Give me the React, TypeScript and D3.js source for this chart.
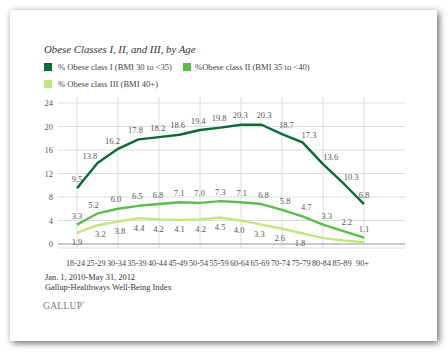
import React from 'react';
import * as d3 from 'd3';

const ages = ['18-24', '25-29', '30-34', '35-39', '40-44', '45-49', '50-54', '55-59', '60-64', '65-69', '70-74', '75-79', '80-84', '85-89', '90+'];
const classI = [9.5, 13.8, 16.2, 17.8, 18.2, 18.6, 19.4, 19.8, 20.3, 20.3, 18.7, 17.3, 13.6, 10.3, 6.8];
const classII = [3.3, 5.2, 6.0, 6.5, 6.8, 7.1, 7.0, 7.3, 7.1, 6.8, 5.8, 4.7, 3.3, 2.2, 1.1];
const classIII = [1.9, 3.2, 3.8, 4.4, 4.2, 4.1, 4.2, 4.5, 4.0, 3.3, 2.6, 1.8, 1.0, 0.6, 0.3];
// the last three class III points carry no label in the original
const classIIILabelled = 12;
const yTicks = [0, 4, 8, 12, 16, 20, 24];

const seriesNames = ['% Obese class I (BMI 30 to <35)', '%Obese class II (BMI 35 to <40)', '% Obese class III (BMI 40+)'];
const colors = ['#0b6b33', '#5bbd4b', '#c3e57e'];

const serif = '"Liberation Serif", "DejaVu Serif", serif';

export default function App() {
  const x = d3.scalePoint<string>().domain(ages).range([77, 364]);
  const y = d3.scaleLinear().domain([0, 24]).range([244, 103]);

  const line = d3.line<number>()
    .x((_, i) => x(ages[i]) as number)
    .y(d => y(d));

  const series = [
    { values: classI, color: colors[0], side: -1, count: ages.length },
    { values: classII, color: colors[1], side: -1, count: ages.length },
    { values: classIII, color: colors[2], side: 1, count: classIIILabelled },
  ];

  // place labels along the normal of the line, above (-1) or below (+1)
  const labelPos = (vals: number[], i: number, side: number) => {
    const px = x(ages[i]) as number;
    const py = y(vals[i]);
    if (i === 0 || i === vals.length - 1) return [px, py + side * 9];
    const x0 = x(ages[i - 1]) as number, y0 = y(vals[i - 1]);
    const x1 = x(ages[i + 1]) as number, y1 = y(vals[i + 1]);
    const len = Math.hypot(x1 - x0, y1 - y0);
    const tx = (x1 - x0) / len, ty = (y1 - y0) / len;
    const nx = side < 0 ? ty : -ty;
    const ny = side < 0 ? -tx : tx;
    return [px + nx * 11, py + ny * 9.5];
  };

  return (
    <svg width={448} height={352} style={{ position: 'absolute', left: 0, top: 0, background: '#fff' }}>
      <defs>
        <filter id="shadow" x="-10%" y="-10%" width="120%" height="120%">
          <feDropShadow dx="2" dy="2" stdDeviation="3.5" floodColor="#000" floodOpacity="0.6" />
        </filter>
      </defs>
      <rect x={10} y={10} width={427} height={331} fill="#fff" filter="url(#shadow)" />

      <text x={44} y={53} fontFamily={serif} fontStyle="italic" fontSize={10.8} fill="#333">
        Obese Classes I, II, and III, by Age
      </text>

      {/* legend */}
      <g fontFamily={serif} fontSize={8.6} fill="#444">
        <rect x={44} y={63} width={8} height={8} fill={colors[0]} />
        <text x={58} y={70}>{seriesNames[0]}</text>
        <rect x={183} y={63} width={8} height={8} fill={colors[1]} />
        <text x={195} y={70}>{seriesNames[1]}</text>
        <rect x={44} y={80} width={8} height={8} fill={colors[2]} />
        <text x={58} y={87}>{seriesNames[2]}</text>
      </g>

      {/* grid */}
      <g stroke="#dcdcdc" strokeWidth={1}>
        {yTicks.map(t => (
          <line key={t} x1={58} x2={405} y1={y(t)} y2={y(t)} />
        ))}
        {ages.filter((_, i) => i % 2 === 0).map(a => (
          <line key={a} x1={x(a)} x2={x(a)} y1={97} y2={248} />
        ))}
        <line x1={58} x2={405} y1={248} y2={248} />
      </g>
      <line x1={58} x2={405} y1={y(0)} y2={y(0)} stroke="#bdbdbd" strokeWidth={1.5} />

      <g fontFamily={serif} fontSize={8.5} fill="#555" textAnchor="end">
        {yTicks.map(t => (
          <text key={t} x={53} y={y(t) + 3}>{t}</text>
        ))}
      </g>
      <g fontFamily={serif} fontSize={8.2} fill="#444" textAnchor="middle">
        {ages.map(a => (
          <text key={a} x={(x(a) as number) - 1.5} y={266}>{a}</text>
        ))}
      </g>

      {/* lines */}
      {series.slice().reverse().map((s, k) => (
        <path key={k} d={line(s.values) || ''} fill="none" stroke={s.color} strokeWidth={2.4} strokeLinejoin="round" />
      ))}

      {/* value labels */}
      <g fontFamily={serif} fontSize={8.5} fill="#555" textAnchor="middle">
        {series.map((s, k) =>
          s.values.slice(0, s.count).map((v, i) => {
            const [lx, ly] = labelPos(s.values, i, s.side);
            return (
              <text key={`${k}-${i}`} x={lx} y={ly + 3}>{v.toFixed(1)}</text>
            );
          })
        )}
      </g>

      {/* footer */}
      <g fontFamily={serif} fontSize={8.4} fill="#333">
        <text x={45} y={280}>Jan. 1, 2010-May 31, 2012</text>
        <text x={45} y={290}>Gallup-Healthways Well-Being Index</text>
      </g>
      <text x={43} y={309} fontFamily={serif} fontSize={9.5} fill="#777" letterSpacing={0.3}>GALLUP</text>
      <text x={82} y={304} fontFamily={serif} fontSize={4} fill="#777">®</text>
    </svg>
  );
}
